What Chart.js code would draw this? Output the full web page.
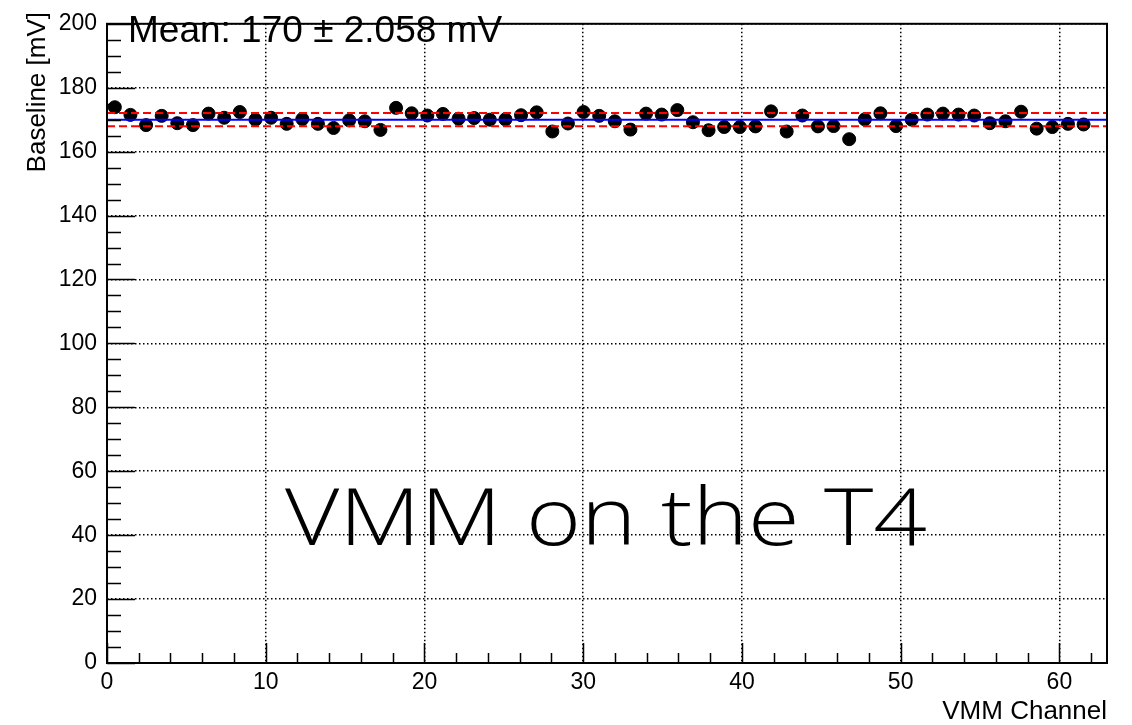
<!DOCTYPE html>
<html>
<head>
<meta charset="utf-8">
<script src="https://cdn.jsdelivr.net/npm/chart.js@4/dist/chart.umd.min.js"></script>
<style>
  html, body { margin: 0; padding: 0; background: #fff; }
  #wrap { width: 1132px; height: 725px; }
</style>
</head>
<body>
<div id="wrap"><canvas id="baselineChart" width="1132" height="725"></canvas></div>
<script>
// histogram binning of the channel axis: 64 bins spread over 0..63
const N_BINS = 64;
const X_MAX = 63;

const channels = [
  0, 1, 2, 3, 4, 5, 6, 7, 8, 9,
  10, 11, 12, 13, 14, 15, 16, 17, 18, 19,
  20, 21, 22, 23, 24, 25, 26, 27, 28, 29,
  30, 31, 32, 33, 34, 35, 36, 37, 38, 39,
  40, 41, 42, 43, 44, 45, 46, 47, 48, 49,
  50, 51, 52, 53, 54, 55, 56, 57, 58, 59,
  60, 61, 62
];

// baseline per channel [mV]
const baseline = [
  173.9, 171.5, 168.3, 171.2, 168.9, 168.3, 171.9, 170.6, 172.4, 170.0,
  170.6, 168.7, 170.2, 168.7, 167.4, 169.8, 169.5, 166.8, 173.7, 172.0,
  171.3, 171.8, 170.3, 170.5, 170.0, 170.1, 171.4, 172.3, 166.3, 168.8,
  172.4, 171.2, 169.5, 166.9, 171.9, 171.6, 173.0, 169.2, 166.7, 167.7,
  167.7, 167.9, 172.6, 166.3, 171.3, 167.9, 168.0, 163.9, 170.1, 172.0,
  168.0, 170.0, 171.6, 171.9, 171.6, 171.3, 168.9, 169.5, 172.5, 167.2,
  167.7, 168.7, 168.5
];

const MEAN = 170;
const RMS = 2.058;

const xTicks = [0, 10, 20, 30, 40, 50, 60];
const yTicks = [0, 20, 40, 60, 80, 100, 120, 140, 160, 180, 200];

const binWidth = X_MAX / N_BINS;
const binCenter = ch => (ch + 0.5) * binWidth;

const points = channels.map((ch, i) => ({ x: binCenter(ch), y: baseline[i] }));
const hLine = v => [{ x: 0, y: v }, { x: X_MAX, y: v }];

const SANS = '"Liberation Sans", Arial, Helvetica, sans-serif';

// frame, inward ticks, titles and text overlays drawn ROOT style
const rootFrame = {
  id: 'rootFrame',
  afterDatasetsDraw(chart) {
    const { ctx, chartArea: a, scales: { x, y } } = chart;
    ctx.save();

    // big light caption, stretched to its box width
    ctx.fillStyle = '#000';
    ctx.font = '300 80px "Open Sans", Roboto, "Liberation Sans", sans-serif';
    ctx.textAlign = 'left';
    ctx.textBaseline = 'alphabetic';
    const caption = 'VMM on the T4';
    const sx = 642 / ctx.measureText(caption).width;
    ctx.save();
    ctx.translate(285, 545);
    ctx.scale(sx, 1);
    ctx.fillText(caption, 0, 0);
    ctx.restore();

    ctx.strokeStyle = '#000';
    ctx.lineWidth = 1.5;
    ctx.beginPath();
    for (let v = 0; v <= 200; v += 5) {
      const py = Math.round(y.getPixelForValue(v)) + 0.5;
      const len = v % 20 === 0 ? 28 : 14;
      ctx.moveTo(a.left, py);
      ctx.lineTo(a.left + len, py);
    }
    for (let v = 0; v <= X_MAX; v += 2) {
      const px = Math.round(x.getPixelForValue(v)) + 0.5;
      const len = v % 10 === 0 ? 20 : 10;
      ctx.moveTo(px, a.bottom);
      ctx.lineTo(px, a.bottom - len);
    }
    ctx.stroke();

    ctx.lineWidth = 2;
    ctx.strokeRect(a.left, a.top, a.right - a.left, a.bottom - a.top);

    ctx.font = '26px ' + SANS;
    ctx.textAlign = 'right';
    ctx.textBaseline = 'alphabetic';
    ctx.fillText('VMM Channel', a.right, 719);

    ctx.save();
    ctx.translate(45, 12);
    ctx.rotate(-Math.PI / 2);
    ctx.textAlign = 'right';
    ctx.fillText('Baseline [mV]', 0, 0);
    ctx.restore();

    ctx.font = '37px ' + SANS;
    ctx.textAlign = 'left';
    ctx.fillText('Mean: ' + MEAN + ' \u00b1 ' + RMS.toFixed(3) + ' mV', 128, 42);

    ctx.restore();
  }
};

new Chart(document.getElementById('baselineChart'), {
  type: 'scatter',
  data: {
    datasets: [
      {
        label: 'mean',
        type: 'line',
        data: hLine(MEAN),
        borderColor: '#0000ff',
        borderWidth: 2,
        pointRadius: 0,
        order: 0
      },
      {
        label: 'mean + rms',
        type: 'line',
        data: hLine(MEAN + RMS),
        borderColor: '#ff0000',
        borderWidth: 2,
        borderDash: [8, 4],
        pointRadius: 0,
        order: 0
      },
      {
        label: 'mean - rms',
        type: 'line',
        data: hLine(MEAN - RMS),
        borderColor: '#ff0000',
        borderWidth: 2,
        borderDash: [8, 4],
        pointRadius: 0,
        order: 0
      },
      {
        label: 'baseline',
        data: points,
        backgroundColor: '#000',
        borderColor: '#000',
        pointRadius: 6.5,
        pointHoverRadius: 6.5,
        order: 1
      }
    ]
  },
  options: {
    responsive: false,
    animation: false,
    layout: { padding: { top: 17, right: 25, left: 0, bottom: 0 } },
    plugins: {
      legend: { display: false },
      tooltip: { enabled: false }
    },
    scales: {
      x: {
        type: 'linear',
        min: 0,
        max: X_MAX,
        afterBuildTicks: scale => { scale.ticks = xTicks.map(v => ({ value: v })); },
        afterFit: scale => { scale.height = 62; },
        grid: { color: '#000', lineWidth: 1.5, drawTicks: false },
        border: { display: false, dash: [1.5, 2.5] },
        ticks: { color: '#000', font: { size: 23, family: SANS }, padding: 6, maxRotation: 0 }
      },
      y: {
        min: 0,
        max: 200,
        afterBuildTicks: scale => { scale.ticks = yTicks.map(v => ({ value: v })); },
        afterFit: scale => { scale.width = 107; },
        grid: { color: '#000', lineWidth: 1.5, drawTicks: false },
        border: { display: false, dash: [1.5, 2.5] },
        ticks: { color: '#000', font: { size: 23, family: SANS }, padding: 10 }
      }
    }
  },
  plugins: [rootFrame]
});
</script>
</body>
</html>
